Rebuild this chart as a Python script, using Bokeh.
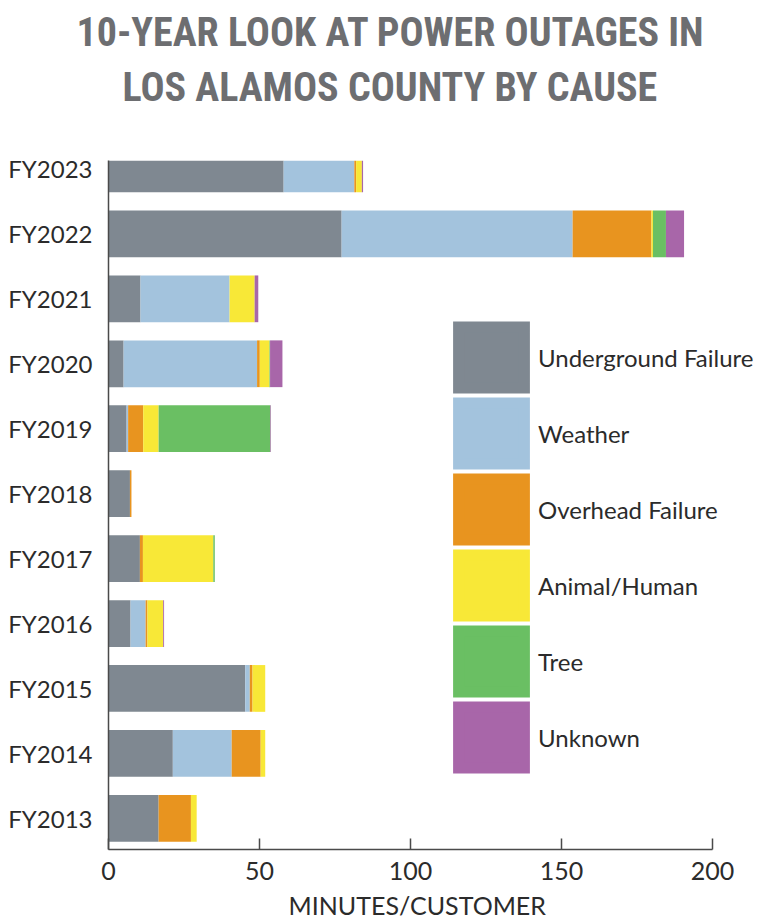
import numpy as np
from bokeh.plotting import figure
from bokeh.models import Legend, LegendItem, Title, FixedTicker, ColumnDataSource, Range1d
from bokeh.embed import file_html
from bokeh.resources import INLINE

years = ["FY2013", "FY2014", "FY2015", "FY2016", "FY2017", "FY2018",
         "FY2019", "FY2020", "FY2021", "FY2022", "FY2023"]
underground = [16.6, 21.3, 45.3, 7.3, 10.4, 7.1, 6.0, 5.0, 10.6, 77.2, 58.0]
weather     = [0.0, 19.5, 1.5, 5.0, 0.0, 0.0, 0.5, 44.2, 29.5, 76.5, 23.4]
overhead    = [10.7, 9.6, 0.9, 0.6, 1.0, 0.5, 5.0, 0.9, 0.0, 26.1, 0.6]
animal      = [1.9, 1.5, 4.2, 5.2, 23.3, 0.0, 5.1, 3.2, 8.3, 0.5, 1.9]
tree        = [0.0, 0.0, 0.0, 0.0, 0.5, 0.0, 37.0, 0.2, 0.0, 4.3, 0.0]
unknown     = [0.0, 0.0, 0.0, 0.3, 0.0, 0.0, 0.2, 4.1, 1.2, 6.0, 0.4]

causes = ["Underground Failure", "Weather", "Overhead Failure", "Animal/Human", "Tree", "Unknown"]
colors = ["#7f8891", "#a3c3dd", "#e8941f", "#f8e837", "#6abf63", "#a866a9"]
x_ticks = [0, 50, 100, 150, 200]

pos = list(np.arange(len(years)).astype(float))
keys = ["ug", "we", "oh", "an", "tr", "un"]
src = ColumnDataSource(dict(y=pos, ug=underground, we=weather, oh=overhead,
                            an=animal, tr=tree, un=unknown))

p = figure(width=766, height=924, output_backend="svg", toolbar_location=None,
           x_range=Range1d(0, 217.9), y_range=Range1d(-0.48, 10.13),
           min_border_left=108, min_border_right=0, min_border_top=160, min_border_bottom=0)
p.outline_line_color = None
p.grid.visible = False
p.background_fill_color = "white"

rs = p.hbar_stack(keys, y="y", height=0.72, color=colors, source=src, line_color=None)

# hidden copies used only to draw the large legend swatches
ls = p.hbar_stack(keys, y="y", height=0.72, fill_color=colors, line_color=colors,
                  line_width=11.2, line_join="miter", source=src, visible=False)

items = [LegendItem(label=c, renderers=[r]) for c, r in zip(causes, ls)]
legend = Legend(items=items, location=(342, 74), padding=0, margin=0,
                glyph_width=82, glyph_height=76, spacing=0, label_standoff=6,
                label_text_font="Lato", label_text_font_size="24px",
                label_text_color="#2b2b2b",
                border_line_alpha=0, background_fill_alpha=0)
p.add_layout(legend, "center")

# axes
p.xaxis.bounds = (0, 200)
p.xaxis.ticker = FixedTicker(ticks=x_ticks)
p.xaxis.major_tick_in = 11
p.xaxis.major_tick_out = 0
p.xaxis.minor_tick_line_color = None
p.xaxis.axis_line_color = "#4a4a4a"
p.xaxis.axis_line_width = 1.5
p.xaxis.major_tick_line_color = "#4a4a4a"
p.xaxis.major_tick_line_width = 1.5
p.xaxis.major_label_text_font = "Lato"
p.xaxis.major_label_text_font_size = "25px"
p.xaxis.major_label_text_color = "#2b2b2b"
p.xaxis.major_label_standoff = 12

p.yaxis.ticker = FixedTicker(ticks=pos)
p.yaxis.major_label_overrides = {float(v): y for v, y in zip(pos, years)}
p.yaxis.major_tick_line_color = None
p.yaxis.minor_tick_line_color = None
p.yaxis.axis_line_color = "#4a4a4a"
p.yaxis.axis_line_width = 1.5
p.yaxis.major_label_text_font = "Lato"
p.yaxis.major_label_text_font_size = "24px"
p.yaxis.major_label_text_color = "#2b2b2b"
p.yaxis.major_label_standoff = 10

# x axis label as a below-title so it can be centred on the 0-200 axis
xlab = Title(text="MINUTES/CUSTOMER", align="left", offset=180, text_font="Lato",
             text_font_style="normal", text_font_size="25px", text_color="#2b2b2b", standoff=10)
p.add_layout(xlab, "below")

# title (two lines) with a blank spacer between title and plot
p.title = None
spacer = Title(text=" ", align="left", text_font="Roboto Condensed", text_font_size="40px",
               standoff=0)
t2 = Title(text="LOS ALAMOS COUNTY BY CAUSE", align="left", offset=14,
           text_font="Roboto Condensed", text_font_style="bold", text_font_size="40px",
           text_color="#6d6e71", standoff=2)
t1 = Title(text="10-YEAR LOOK AT POWER OUTAGES IN", align="left", offset=-32,
           text_font="Roboto Condensed", text_font_style="bold", text_font_size="40px",
           text_color="#6d6e71", standoff=10)
p.add_layout(spacer, "above")
p.add_layout(t2, "above")
p.add_layout(t1, "above")

open("out.html", "w").write(file_html(p, INLINE))
